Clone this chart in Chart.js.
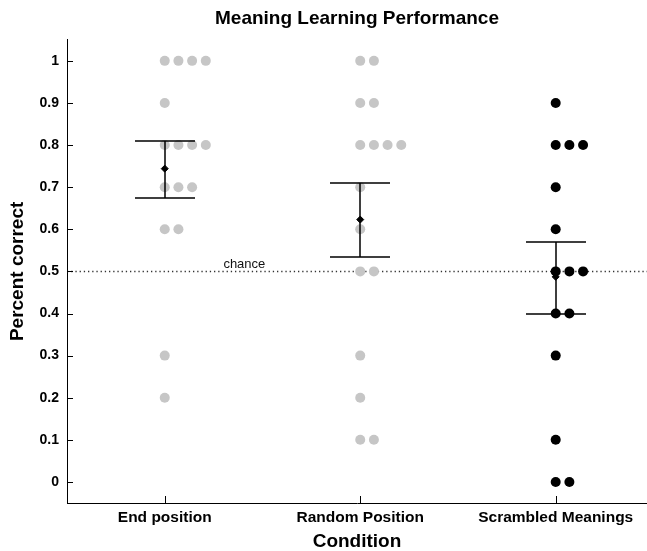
<!DOCTYPE html>
<html>
<head>
<meta charset="utf-8">
<script src="https://cdn.jsdelivr.net/npm/chart.js@4/dist/chart.umd.min.js"></script>
<style>
html,body{margin:0;padding:0;background:#fff;}
#wrap{width:647px;height:551px;}
</style>
</head>
<body>
<div id="wrap"><canvas id="c" width="647" height="551"></canvas></div>
<script>
// ---- DATA ----
const categories = ['End position', 'Random Position', 'Scrambled Meanings'];
const endPosition = [1, 1, 1, 1, 0.9, 0.8, 0.8, 0.8, 0.8, 0.7, 0.7, 0.7, 0.6, 0.6, 0.3, 0.2];
const randomPosition = [1, 1, 0.9, 0.9, 0.8, 0.8, 0.8, 0.8, 0.7, 0.6, 0.5, 0.5, 0.3, 0.2, 0.1, 0.1];
const scrambledMeanings = [0.9, 0.8, 0.8, 0.8, 0.7, 0.6, 0.5, 0.5, 0.5, 0.4, 0.4, 0.3, 0.1, 0, 0];
const means = [0.744, 0.623, 0.487];
const errLow = [0.675, 0.535, 0.399];
const errHigh = [0.809, 0.711, 0.570];
const chanceLevel = 0.5;
const chanceLabel = 'chance';
const yTickValues = [0, 0.1, 0.2, 0.3, 0.4, 0.5, 0.6, 0.7, 0.8, 0.9, 1];
const xTickValues = [0, 1, 2];

// ---- build points (stacked jitter for equal values) ----
const JITTER = 0.07;
function toPoints(values, catIndex) {
  const seen = {};
  return values.map(v => {
    const k = v.toFixed(2);
    const n = seen[k] || 0;
    seen[k] = n + 1;
    return { x: catIndex + n * JITTER, y: v };
  });
}

const inwardTicks = {
  id: 'inwardTicks',
  afterDraw(chart) {
    const ctx = chart.ctx, xs = chart.scales.x, ys = chart.scales.y;
    const a = chart.chartArea;
    ctx.save();
    ctx.strokeStyle = '#000';
    ctx.lineWidth = 1;
    ctx.beginPath();
    yTickValues.forEach(v => {
      const y = Math.round(ys.getPixelForValue(v)) + 0.5;
      ctx.moveTo(a.left, y); ctx.lineTo(a.left + 6, y);
    });
    xTickValues.forEach(v => {
      const x = Math.round(xs.getPixelForValue(v)) + 0.5;
      ctx.moveTo(x, a.bottom); ctx.lineTo(x, a.bottom - 7);
    });
    ctx.stroke();
    ctx.restore();
  }
};

const chanceLine = {
  id: 'chanceLine',
  beforeDatasetsDraw(chart) {
    const ctx = chart.ctx, ys = chart.scales.y, a = chart.chartArea;
    const y = Math.round(ys.getPixelForValue(chanceLevel)) + 0.5;
    ctx.save();
    ctx.strokeStyle = '#333';
    ctx.lineWidth = 1.3;
    ctx.setLineDash([1.3, 2.9]);
    ctx.beginPath();
    ctx.moveTo(a.left, y); ctx.lineTo(a.right, y);
    ctx.stroke();
    ctx.setLineDash([]);
    ctx.fillStyle = '#111';
    ctx.font = '13px "Liberation Sans", Arial, sans-serif';
    ctx.textAlign = 'left';
    ctx.textBaseline = 'alphabetic';
    ctx.fillText(chanceLabel, chart.scales.x.getPixelForValue(0.3), y - 4);
    ctx.restore();
  }
};

const errorBars = {
  id: 'errorBars',
  afterDatasetsDraw(chart) {
    const ctx = chart.ctx, xs = chart.scales.x, ys = chart.scales.y;
    ctx.save();
    ctx.strokeStyle = '#000';
    ctx.lineWidth = 1.5;
    categories.forEach((c, i) => {
      const x = Math.round(xs.getPixelForValue(i)) ;
      const yl = Math.round(ys.getPixelForValue(errLow[i]));
      const yh = Math.round(ys.getPixelForValue(errHigh[i]));
      ctx.beginPath();
      ctx.moveTo(x, yl); ctx.lineTo(x, yh);
      ctx.moveTo(x - 30, yl); ctx.lineTo(x + 30, yl);
      ctx.moveTo(x - 30, yh); ctx.lineTo(x + 30, yh);
      ctx.stroke();
    });
    ctx.restore();
  }
};

const bold = '"Liberation Sans", Arial, Helvetica, sans-serif';

new Chart(document.getElementById('c'), {
  type: 'scatter',
  data: {
    datasets: [
      { label: categories[0], data: toPoints(endPosition, 0), pointRadius: 5, pointBackgroundColor: '#c6c6c6', pointBorderWidth: 0, pointBorderColor: 'rgba(0,0,0,0)' },
      { label: categories[1], data: toPoints(randomPosition, 1), pointRadius: 5, pointBackgroundColor: '#c6c6c6', pointBorderWidth: 0, pointBorderColor: 'rgba(0,0,0,0)' },
      { label: categories[2], data: toPoints(scrambledMeanings, 2), pointRadius: 5, pointBackgroundColor: '#000', pointBorderWidth: 0, pointBorderColor: 'rgba(0,0,0,0)' },
      { label: 'Mean', data: means.map((m, i) => ({ x: i, y: m })), pointStyle: 'rectRot', pointRadius: 3.5, pointBackgroundColor: '#000', pointBorderColor: '#000', pointBorderWidth: 1 }
    ]
  },
  options: {
    responsive: false,
    animation: false,
    devicePixelRatio: 1,
    layout: { autoPadding: false, padding: { left: 0, right: 0, top: 0, bottom: 0 } },
    plugins: {
      legend: { display: false },
      tooltip: { enabled: false },
      title: {
        display: true,
        text: 'Meaning Learning Performance',
        fullSize: false,
        color: '#000',
        font: { family: bold, size: 19, weight: 'bold', lineHeight: 1.2 },
        padding: { top: 7, bottom: 10 }
      }
    },
    scales: {
      x: {
        type: 'linear',
        min: -0.5,
        max: 2.467,
        afterBuildTicks(scale) { scale.ticks = xTickValues.map(v => ({ value: v })); },
        afterFit(scale) { scale.height = 48; },
        grid: { display: false, drawTicks: false },
        border: { display: true, color: '#000', width: 1 },
        ticks: {
          padding: 5,
          color: '#000',
          autoSkip: false,
          maxRotation: 0,
          font: { family: bold, size: 15.5, weight: 'bold' },
          callback: v => categories[v]
        },
        title: {
          display: true,
          text: 'Condition',
          color: '#000',
          font: { family: bold, size: 19, weight: 'bold', lineHeight: 1.0 },
          padding: { top: 0, bottom: 0 }
        }
      },
      y: {
        min: -0.05,
        max: 1.05,
        afterBuildTicks(scale) { scale.ticks = yTickValues.map(v => ({ value: v })); },
        afterFit(scale) { scale.width = 67; },
        grid: { display: false, drawTicks: false },
        border: { display: true, color: '#000', width: 1 },
        ticks: {
          padding: 8,
          color: '#000',
          font: { family: bold, size: 14, weight: 'bold' },
          callback: v => String(Math.round(v * 10) / 10)
        },
        title: {
          display: true,
          text: 'Percent correct',
          color: '#000',
          font: { family: bold, size: 19, weight: 'bold', lineHeight: 1.0 },
          padding: { top: 8, bottom: 0 }
        }
      }
    }
  },
  plugins: [chanceLine, errorBars, inwardTicks]
});
</script>
</body>
</html>
